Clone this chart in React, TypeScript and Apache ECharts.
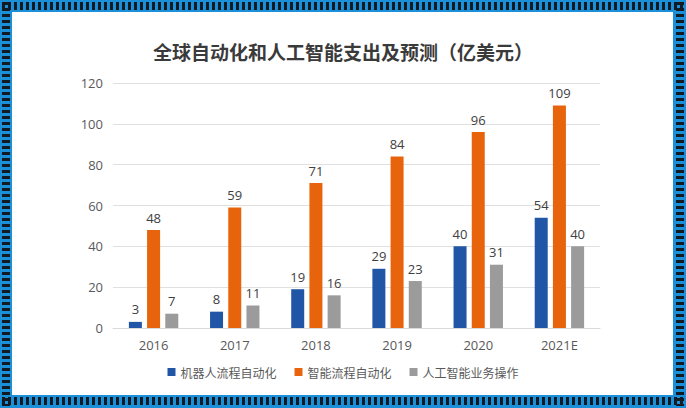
import React, { useEffect, useRef } from "react";
import * as echarts from "echarts";

const categories = ["2016", "2017", "2018", "2019", "2020", "2021E"];
const rpaValues = [3, 8, 19, 29, 40, 54];
const ipaValues = [48, 59, 71, 84, 96, 109];
const aiValues = [7, 11, 16, 23, 31, 40];
const seriesNames = ["机器人流程自动化", "智能流程自动化", "人工智能业务操作"];
const titleText = "全球自动化和人工智能支出及预测（亿美元）";

const FONT = "'Open Sans', 'Noto Sans CJK SC', sans-serif";
const CJK = "'Noto Sans CJK SC', sans-serif";

export default function App() {
  const ref = useRef<HTMLDivElement>(null);
  useEffect(() => {
    if (!ref.current) return;
    const chart = echarts.init(ref.current, undefined, { renderer: "svg" });
    const label = {
      show: true,
      position: "top",
      distance: 6,
      color: "#404040",
      fontSize: 13,
      fontFamily: FONT,
    };
    chart.setOption({
      animation: false,
      backgroundColor: "transparent",
      textStyle: { fontFamily: FONT },
      title: {
        text: titleText,
        left: "center",
        top: 37,
        textStyle: { fontSize: 19, fontWeight: "bold", color: "#3a3a3a", fontFamily: CJK },
      },
      legend: {
        bottom: 25,
        left: "center",
        itemWidth: 8,
        itemHeight: 8,
        itemGap: 18,
        icon: "rect",
        textStyle: { fontSize: 12, color: "#595959", fontFamily: CJK },
        data: seriesNames,
      },
      grid: { left: 113, right: 86, top: 83, bottom: 80, containLabel: false },
      xAxis: {
        type: "category",
        data: categories,
        axisLine: { lineStyle: { color: "#d9d9d9" } },
        axisTick: { show: false },
        axisLabel: { color: "#595959", fontSize: 13, margin: 10, fontFamily: FONT },
      },
      yAxis: {
        type: "value",
        min: 0,
        max: 120,
        interval: 20,
        axisLine: { show: false },
        axisTick: { show: false },
        splitLine: { lineStyle: { color: "#e0e0e0" } },
        axisLabel: { color: "#595959", fontSize: 13, margin: 10, fontFamily: FONT },
      },
      series: [
        { name: seriesNames[0], type: "bar", data: rpaValues, barWidth: 13, barGap: "40%", itemStyle: { color: "#2155a6" }, label },
        { name: seriesNames[1], type: "bar", data: ipaValues, barWidth: 13, barGap: "40%", itemStyle: { color: "#e8640c" }, label },
        { name: seriesNames[2], type: "bar", data: aiValues, barWidth: 13, barGap: "40%", itemStyle: { color: "#9b9b9b" }, label },
      ],
    });
    return () => chart.dispose();
  }, []);

  const blue = "#1b8fd8";
  const dark = "#121a24";
  return (
    <div style={{ position: "fixed", left: 0, top: 0, width: 686, height: 408, background: blue, overflow: "hidden" }}>
      <div style={{ position: "absolute", left: 2, top: 2, width: 682, height: 8, background: `repeating-linear-gradient(90deg, ${dark} 0 3px, transparent 3px 6px)` }} />
      <div style={{ position: "absolute", left: 2, top: 397, width: 682, height: 8, background: `repeating-linear-gradient(90deg, ${dark} 0 3px, transparent 3px 6px)` }} />
      <div style={{ position: "absolute", left: 2, top: 2, width: 8, height: 404, background: `repeating-linear-gradient(180deg, ${dark} 0 3px, transparent 3px 6px)` }} />
      <div style={{ position: "absolute", left: 676, top: 2, width: 8, height: 404, background: `repeating-linear-gradient(180deg, ${dark} 0 3px, transparent 3px 6px)` }} />
      <div style={{ position: "absolute", left: 12, top: 12, width: 661, height: 383, background: "#ffffff" }} />
      <div ref={ref} style={{ position: "absolute", left: 0, top: 0, width: 686, height: 408 }} />
    </div>
  );
}
